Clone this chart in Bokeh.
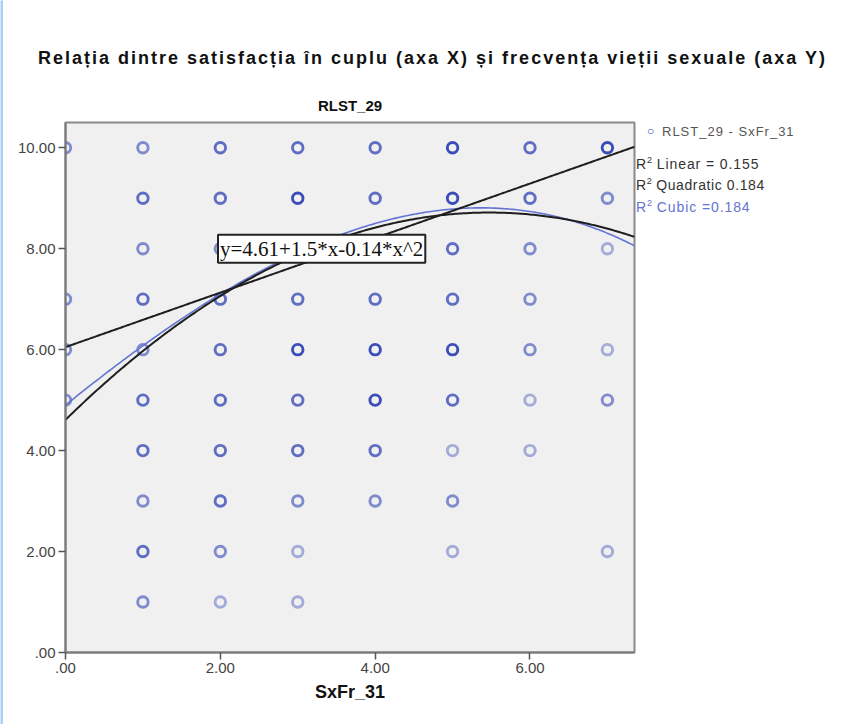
import numpy as np
from bokeh.plotting import figure
from bokeh.models import Range1d, FixedTicker, Label, ColumnDataSource, Title, Div
from bokeh.layouts import row, column
from bokeh.embed import file_html
from bokeh.resources import INLINE

# ---------------- data ----------------
title_text = "Relația dintre satisfacția în cuplu (axa X) și frecvența vieții sexuale (axa Y)"
subtitle_text = "RLST_29"
x_title = "SxFr_31"
legend_series = "RLST_29 - SxFr_31"
legend_linear = "Linear = 0.155"
legend_quad = "Quadratic 0.184"
legend_cubic = "Cubic =0.184"
equation_text = "y=4.61+1.5*x-0.14*x^2"

x_ticks = [0, 2, 4, 6]
x_tick_labels = [".00", "2.00", "4.00", "6.00"]
y_ticks = [0, 2, 4, 6, 8, 10]
y_tick_labels = [".00", "2.00", "4.00", "6.00", "8.00", "10.00"]

sxfr = [0, 0, 0, 0,
        1, 1, 1, 1, 1, 1, 1, 1, 1, 1,
        2, 2, 2, 2, 2, 2, 2, 2, 2, 2,
        3, 3, 3, 3, 3, 3, 3, 3, 3, 3,
        4, 4, 4, 4, 4, 4, 4, 4,
        5, 5, 5, 5, 5, 5, 5, 5, 5,
        6, 6, 6, 6, 6, 6, 6,
        7, 7, 7, 7, 7, 7]
rlst = [10, 7, 6, 5,
        10, 9, 8, 7, 6, 5, 4, 3, 2, 1,
        10, 9, 8, 7, 6, 5, 4, 3, 2, 1,
        10, 9, 8, 7, 6, 5, 4, 3, 2, 1,
        10, 9, 8, 7, 6, 5, 4, 3,
        10, 9, 8, 7, 6, 5, 4, 3, 2,
        10, 9, 8, 7, 6, 5, 4,
        10, 9, 8, 6, 5, 2]
cases = [2, 2, 2, 2,
         2, 3, 2, 3, 2, 3, 3, 2, 3, 2,
         3, 3, 2, 3, 3, 3, 3, 3, 2, 1,
         3, 4, 3, 3, 4, 3, 3, 2, 1, 1,
         3, 3, 3, 3, 4, 4, 3, 2,
         4, 4, 3, 3, 4, 3, 1, 2, 1,
         3, 3, 2, 2, 2, 1, 1,
         4, 2, 1, 1, 2, 1]

linear_coef = [6.05, 0.54]
quad_coef = [4.61, 1.50, -0.137]
cubic_coef = [4.90, 1.2397, -0.0548, -0.00754]

X_MAX = 7.35
Y_MAX = 10.5

# ---------------- styles ----------------
FONT = "Liberation Sans"
PT_COLOR = "#3b4db8"
CUBIC_COLOR = "#6474d2"
alpha_by_count = {1: 0.42, 2: 0.62, 3: 0.8, 4: 1.0}

p = figure(width=636, height=644, output_backend="svg", toolbar_location=None,
           x_range=Range1d(0, X_MAX), y_range=Range1d(0, Y_MAX),
           min_border_left=62, min_border_right=5,
           min_border_top=42, min_border_bottom=72,
           background_fill_color="#eff0ef", border_fill_color="white",
           outline_line_color="#8a8a8a", outline_line_width=2, margin=0)
p.grid.visible = False

for ax, ticks, labels in ((p.xaxis, x_ticks, x_tick_labels), (p.yaxis, y_ticks, y_tick_labels)):
    ax.ticker = FixedTicker(ticks=ticks)
    ax.major_label_overrides = {t: l for t, l in zip(ticks, labels)}
    ax.minor_tick_line_color = None
    ax.major_tick_out = 7
    ax.major_tick_in = 0
    ax.major_tick_line_color = "#555555"
    ax.major_tick_line_width = 1.5
    ax.axis_line_color = "#7a7a7a"
    ax.axis_line_width = 2
    ax.major_label_text_font = FONT
    ax.major_label_text_font_size = "15px"
    ax.major_label_text_color = "#444444"
    ax.major_label_standoff = 3

p.xaxis.axis_label = x_title
p.xaxis.axis_label_text_font = FONT
p.xaxis.axis_label_text_font_style = "bold"
p.xaxis.axis_label_text_font_size = "18px"
p.xaxis.axis_label_text_color = "#111111"
p.xaxis.axis_label_standoff = 6

p.add_layout(Title(text=subtitle_text, align="center", text_font=FONT,
                   text_font_style="bold", text_font_size="15px",
                   text_color="#111111", standoff=17), "above")

src = ColumnDataSource(dict(x=sxfr, y=rlst,
                            a=[alpha_by_count[c] for c in cases]))
p.scatter("x", "y", source=src, marker="circle", size=10.5, fill_color=None,
          line_color=PT_COLOR, line_width=2.9, line_alpha="a")

xs = np.linspace(0, X_MAX, 300)
def poly(c, x):
    return sum(ci * x ** i for i, ci in enumerate(c))

p.line(xs, poly(cubic_coef, xs), line_color=CUBIC_COLOR, line_width=1.6)
p.line(xs, poly(linear_coef, xs), line_color="#1e1e1e", line_width=2)
p.line(xs, poly(quad_coef, xs), line_color="#1e1e1e", line_width=2)

# equation box
p.add_layout(Label(x=1.97, y=8.0, text=equation_text, text_baseline="middle",
                   text_font="Liberation Serif", text_font_size="21px",
                   text_color="#111111", background_fill_color="white",
                   border_line_color="#222222", border_line_width=2, padding=2))

# ---------------- texts outside the plot ----------------
title_div = Div(width=840, height=80, margin=0, text=(
    '<div style="position:relative;width:840px;height:80px;overflow:hidden;">'
    '<div style="position:absolute;left:35px;top:46px;white-space:nowrap;letter-spacing:2.0px;'
    "font-family:'Liberation Sans';font-weight:bold;font-size:18px;color:#111;\">"
    f'{title_text}</div></div>'))

def legend_line(left, center_y, size, color, html, spacing):
    top = center_y - 80 - round(size * 0.58)
    return (f'<div style="position:absolute;left:{left}px;top:{top}px;white-space:nowrap;'
            f'letter-spacing:{spacing}px;'
            f"font-family:'Liberation Sans';font-size:{size}px;color:{color};\">{html}</div>")

r2 = 'R<sup style="font-size:9px;letter-spacing:0">2</sup> '
legend_html = (
    '<div style="position:relative;width:204px;height:200px;">'
    + legend_line(8, 130, 12, PT_COLOR, '○', 0)
    + legend_line(23, 131, 13, "#555555", legend_series, 1.0)
    + legend_line(-3, 162, 14, "#333333", r2 + legend_linear, 0.9)
    + legend_line(-3, 183, 14, "#333333", r2 + legend_quad, 0.6)
    + legend_line(-3, 205, 14, CUBIC_COLOR, r2 + legend_cubic, 0.9)
    + '</div>')
legend_div = Div(width=204, height=200, margin=0, text=legend_html)

bar = figure(width=3, height=724, output_backend="svg", toolbar_location=None,
             x_axis_type=None, y_axis_type=None, min_border=0, margin=0,
             background_fill_color="#a9cff5", border_fill_color="#a9cff5",
             outline_line_color=None)

layout = row(bar, column(title_div, row(p, legend_div, spacing=0), spacing=0), spacing=0)
open("out.html", "w").write(file_html(layout, INLINE))
